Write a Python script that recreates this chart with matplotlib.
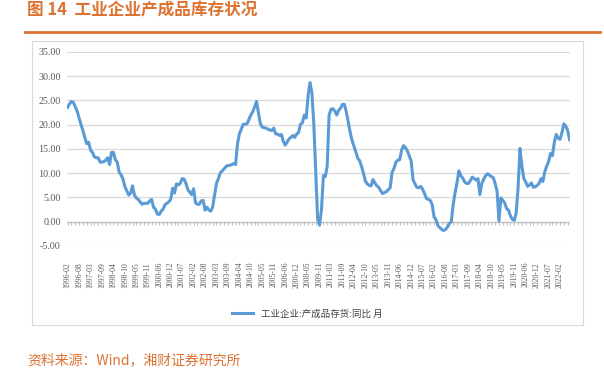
# coding:utf-8
import numpy as np
import matplotlib
matplotlib.use("Agg")
import matplotlib.pyplot as plt
from matplotlib.lines import Line2D
from matplotlib.patches import Rectangle

plt.rcParams['font.family'] = ['Noto Sans CJK SC', 'DejaVu Sans']

# Data: 工业企业:产成品存货:同比 (%), monthly, gaps as in the source
values = [
    23.6, 24.3, 24.8, 24.6, 23.7, 22.8, 21.4, 20.1, 18.8, 17.4,
    16.1, 16.4, 14.8, 14.3, 13.4, 13.2, 13.2, 12.3, 12.3, 12.4,
    12.7, 13.2, 11.8, 14.3, 14.3, 12.8, 12.3, 10.2, 9.7, 8.8,
    7.2, 6.4, 5.5, 5.9, 7.4, 5.5, 4.9, 4.6, 4.1, 3.6,
    3.8, 3.8, 3.8, 4.3, 4.6, 3.0, 2.6, 1.6, 1.5, 2.2,
    2.6, 3.5, 3.8, 4.1, 4.6, 6.9, 5.9, 7.8, 7.6, 7.9,
    8.9, 8.8, 7.9, 6.6, 6.1, 5.6, 6.8, 3.9, 3.6, 3.6,
    4.3, 4.4, 2.4, 3.0, 2.4, 2.2, 3.0, 5.6, 7.9, 8.9,
    10.1, 10.5, 10.9, 11.4, 11.6, 11.6, 11.8, 12.0, 11.8, 16.1,
    18.1, 19.1, 20.1, 20.1, 20.2, 21.1, 22.0, 22.7, 23.7, 24.8,
    22.4, 20.2, 19.5, 19.4, 19.3, 19.1, 18.9, 18.8, 19.3, 18.1,
    18.1, 17.8, 18.0, 16.6, 15.8, 16.4, 17.1, 17.4, 17.8, 17.4,
    18.1, 18.4, 20.1, 20.4, 22.0, 21.4, 26.0, 28.7, 26.5, 20.0,
    10.0, 0.5, -0.7, 2.5, 9.5, 9.3, 11.5, 22.0, 23.2, 23.3,
    22.8, 22.0, 23.0, 23.4, 24.2, 24.2, 22.7, 20.6, 18.5, 16.8,
    15.6, 14.4, 13.1, 12.6, 11.4, 10.0, 8.4, 7.8, 7.5, 7.4,
    8.7, 8.0, 7.4, 7.1, 6.4, 5.8, 6.0, 6.2, 6.6, 7.0,
    10.2, 11.0, 12.3, 12.7, 12.8, 14.8, 15.7, 15.3, 14.6, 13.6,
    12.5, 8.6, 7.8, 7.1, 7.0, 7.3, 6.7, 5.8, 4.8, 4.6,
    4.4, 3.5, 1.0, 0.4, -0.8, -1.2, -1.6, -1.8, -1.6, -1.1,
    -0.4, 0.0, 3.5, 6.0, 8.0, 10.5, 9.5, 9.0, 8.2, 7.9,
    7.9, 8.5, 9.2, 8.9, 8.6, 8.9, 5.6, 7.9, 8.8, 9.5,
    9.9, 9.6, 9.3, 9.1, 7.9, 6.3, 0.2, 4.9, 4.4, 3.9,
    2.7, 2.4, 1.2, 0.5, 0.3, 1.8, 7.0, 15.1, 11.5, 8.9,
    8.2, 7.3, 7.6, 8.0, 7.1, 7.2, 7.5, 7.9, 8.9, 8.3,
    10.3, 11.5, 12.4, 14.1, 13.6, 16.4, 18.0, 17.2, 17.0, 18.4,
    20.2, 19.7, 18.8, 16.9,
]

tick_labels = [
    "1996-02", "1996-08", "1997-03", "1997-09", "1998-04", "1998-10",
    "1999-05", "1999-11", "2000-06", "2000-12", "2001-07", "2002-02",
    "2002-08", "2003-03", "2003-09", "2004-04", "2004-10", "2005-05",
    "2005-11", "2006-06", "2006-12", "2008-05", "2009-11", "2011-03",
    "2011-09", "2012-04", "2012-10", "2013-05", "2013-11", "2014-06",
    "2014-12", "2015-07", "2016-02", "2016-08", "2017-03", "2017-09",
    "2018-04", "2018-10", "2019-05", "2019-11", "2020-06", "2020-12",
    "2021-07", "2022-02",
]
label_step = 6

series_name = "工业企业:产成品存货:同比 月"
title = "图 14  工业企业产成品库存状况"
source = "资料来源：Wind，湘财证券研究所"

orange = "#DD7231"
blue = "#5B9BD5"
grid_c = "#D9D9D9"
text_c = "#595959"


def __main():
    fig = plt.figure(figsize=(6.04, 3.73), dpi=100)
    ax = fig.add_axes([0.111, 0.3405, 0.833, 0.5201])

    x = np.arange(len(values))
    ax.plot(x, values, color=blue, lw=2.2, solid_joinstyle="round",
            label=series_name, zorder=3)

    # axis at zero with small tick marks
    ax.axhline(0, color="#BFBFBF", lw=0.9, zorder=2)
    ax.vlines(x[::2], -0.6, 0, color="#BFBFBF", lw=0.7, zorder=2)

    ax.set_xlim(-0.3, len(values) - 0.7)
    ax.set_ylim(-5, 35)
    ax.set_yticks(np.arange(-5, 36, 5))
    ax.set_yticklabels(["%.2f" % v for v in np.arange(-5, 36, 5)],
                       family="Liberation Serif", fontsize=7.2, color=text_c)
    ax.set_xticks(np.arange(0, len(tick_labels) * label_step, label_step))
    ax.set_xticklabels(tick_labels, rotation=90, family="Liberation Serif",
                       fontsize=5.6, color=text_c)
    ax.tick_params(axis="both", length=0)
    ax.tick_params(axis="y", pad=4.5)
    ax.tick_params(axis="x", pad=11.5)
    ax.grid(axis="y", color=grid_c, lw=0.9)
    ax.set_axisbelow(True)
    for s in ax.spines.values():
        s.set_visible(False)

    ax.legend(loc="center", bbox_to_anchor=(307 / 604, 1 - 314 / 373),
              bbox_transform=fig.transFigure, frameon=False,
              prop={"size": 6.8}, handlelength=2.3, labelcolor="#404040")

    # frame around the chart
    fig.patches.append(Rectangle((32 / 604, 1 - 325 / 373), 551 / 604,
                                 284 / 373, transform=fig.transFigure,
                                 fill=False, ec=grid_c, lw=0.8))

    # title and rule
    fig.text(27 / 604, 1 - 10 / 373, title, color=orange, fontsize=12,
             fontweight="bold", va="center", ha="left")
    fig.add_artist(Line2D([25 / 604, 600 / 604], [1 - 31.5 / 373] * 2,
                          color=orange, lw=2))
    fig.text(27 / 604, 1 - 360 / 373, source, color=orange, fontsize=10,
             va="center", ha="left")

    fig.savefig("out.png", dpi=100)


if __name__ == "__main__":
    __main()
